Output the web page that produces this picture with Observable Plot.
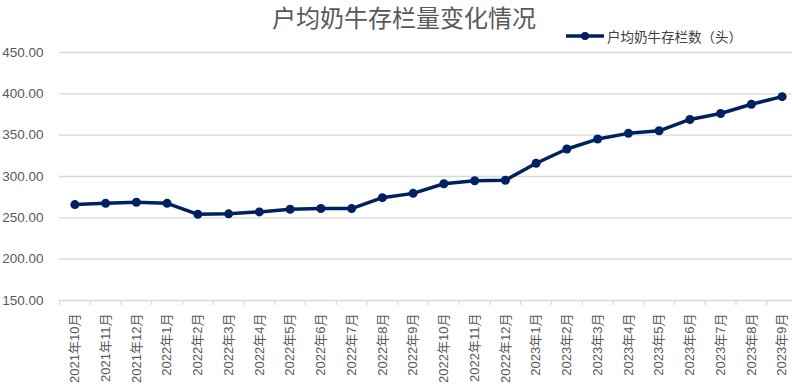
<!DOCTYPE html>
<html>
<head>
<meta charset="utf-8">
<script src="https://cdn.jsdelivr.net/npm/d3@7"></script>
<script src="https://cdn.jsdelivr.net/npm/@observablehq/plot@0.6"></script>
<style>
html, body { margin: 0; padding: 0; overflow: hidden; background: #fff; }
#wrap { position: relative; width: 792px; height: 387px; overflow: hidden;
  font-family: "Liberation Sans", Arial, "Noto Sans CJK SC", sans-serif; }
#chart svg { max-width: none !important; }
#title { position: absolute; left: 8px; top: -1px; width: 792px; text-align: center;
  font-family: "Noto Sans CJK SC", sans-serif; font-size: 24px; line-height: 35px; color: #595959; }
#legend { position: absolute; left: 566px; top: 27px; height: 18px; display: flex; align-items: center;
  font-family: "Noto Sans CJK SC", sans-serif; font-size: 13.5px; color: #404040; }
#legend svg { margin-right: 3px; }
</style>
</head>
<body>
<div id="wrap">
  <div id="chart"></div>
  <div id="title"></div>
  <div id="legend"></div>
</div>
<script>
const months = ["2021年10月","2021年11月","2021年12月","2022年1月","2022年2月","2022年3月","2022年4月","2022年5月","2022年6月","2022年7月","2022年8月","2022年9月","2022年10月","2022年11月","2022年12月","2023年1月","2023年2月","2023年3月","2023年4月","2023年5月","2023年6月","2023年7月","2023年8月","2023年9月"];
const values = [266, 267.5, 268.8, 267.5, 254.3, 254.8, 257.2, 260.4, 261.3, 261.2, 274.4, 279.6, 291.2, 294.8, 295.4, 316, 333.3, 345.3, 352.2, 355.3, 369, 376.2, 387.4, 396.6];
const yTicks = [150, 200, 250, 300, 350, 400, 450];
const titleText = "户均奶牛存栏量变化情况";
const seriesName = "户均奶牛存栏数（头）";
const color = "#002060";

const data = months.map((m, i) => ({month: m, value: values[i]}));

const W = 797, H = 387, ML = 59, MR = 0, MT = 52, MB = 87;
const bw = (W - ML - MR) / months.length;

const chart = Plot.plot({
  width: W, height: H,
  marginTop: MT, marginBottom: MB, marginLeft: ML, marginRight: MR,
  style: {fontFamily: '"Liberation Sans", Arial, "Noto Sans CJK SC", sans-serif', fontSize: "13.5px", color: "#595959", background: "#fff", overflow: "visible"},
  x: {type: "band", domain: months, padding: 0, round: false, label: null},
  y: {domain: [150, 450], label: null},
  marks: [
    Plot.ruleY(yTicks, {stroke: "#d9d9d9", strokeWidth: 1.3}),
    Plot.axisY({ticks: yTicks, tickFormat: d => d.toFixed(2), tickSize: 0, tickPadding: 16, fill: "#595959", label: null}),
    Plot.axisX({tickSize: 5, tickFormat: () => "", dx: -bw / 2, stroke: "#d9d9d9", strokeWidth: 1.3, label: null}),
    Plot.axisX({tickSize: 0, tickRotate: -90, tickPadding: 13, fill: "#595959", fontSize: "13px", label: null}),
    Plot.line(data, {x: "month", y: "value", stroke: color, strokeWidth: 3.5, strokeLinejoin: "round"}),
    Plot.dot(data, {x: "month", y: "value", r: 4.5, fill: color, stroke: "none"})
  ]
});
document.getElementById("chart").appendChild(chart);
document.getElementById("title").textContent = titleText;

const leg = document.getElementById("legend");
const ls = d3.create("svg").attr("width", 38).attr("height", 12);
ls.append("line").attr("x1", 1).attr("x2", 37).attr("y1", 6).attr("y2", 6).attr("stroke", color).attr("stroke-width", 3.5).attr("stroke-linecap", "round");
ls.append("circle").attr("cx", 19).attr("cy", 6).attr("r", 4).attr("fill", color);
leg.appendChild(ls.node());
const lt = document.createElement("span");
lt.textContent = seriesName;
leg.appendChild(lt);
</script>
</body>
</html>
